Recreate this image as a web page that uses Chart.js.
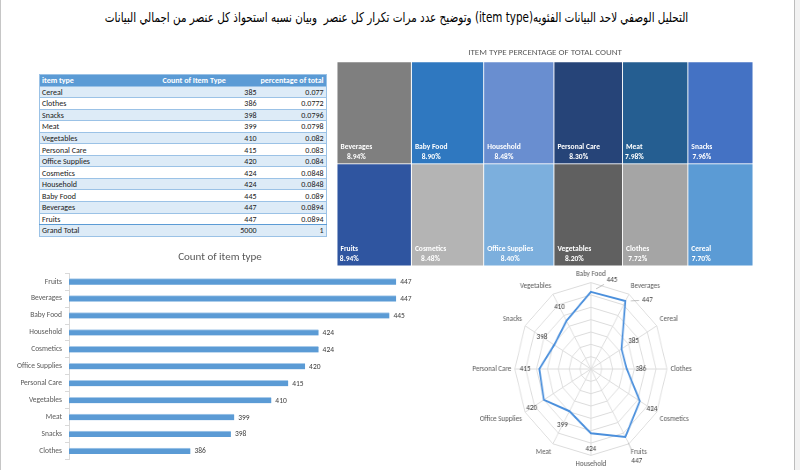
<!DOCTYPE html>
<html>
<head>
<meta charset="utf-8">
<script src="https://cdn.jsdelivr.net/npm/chart.js@4.4.0/dist/chart.umd.min.js"></script>
<style>
html,body{margin:0;padding:0;background:#fff;width:800px;height:470px;overflow:hidden;}
#wrap{position:relative;width:800px;height:470px;}
#leftEdge{position:absolute;left:0;top:0;width:1px;height:470px;background:#c6c6c6;}
#scroll{position:absolute;left:794px;top:0;width:6px;height:470px;background:#f2f2f2;border-left:1px solid #bdbdbd;}
#title{position:absolute;left:0;top:9px;width:793px;text-align:center;font-family:"DejaVu Sans","Noto Sans",sans-serif;font-size:13.5px;color:#000;white-space:nowrap;transform:scaleX(0.77);transform-origin:396.5px 50%;}
#tbl{position:absolute;left:39px;top:74px;border-collapse:collapse;table-layout:fixed;
  font-family:Carlito,"Liberation Sans Narrow","DejaVu Sans Condensed","Liberation Sans",Arial,sans-serif;font-size:8px;color:#1a1a1a;border:1px solid #9bc2e6;}
#tbl td{height:10.55px;padding:0 2px;line-height:10px;border-top:1px solid #9bc2e6;white-space:nowrap;overflow:hidden;}
#tbl tr.h td{background:#5b9bd5;color:#fff;font-weight:bold;border-top:none;}
#tbl tr.odd td{background:#ddebf7;}
#tbl tr.even td{background:#fff;}
#tbl tr.tot td{border-top:1px solid #5b9bd5;}
.num{text-align:right;}
canvas{position:absolute;}
#radar{transform:scaleX(0.88);transform-origin:150px 50%;}
</style>
</head>
<body>
<div id="wrap">
  <div id="leftEdge"></div>
  <div id="scroll"></div>
  <div id="title" dir="rtl">التحليل الوصفي لاحد البيانات الفئويه(item type) وتوضيح عدد مرات تكرار كل عنصر&nbsp; وبيان نسبه استحواذ كل عنصر من اجمالي البيانات</div>
  <table id="tbl"></table>
  <canvas id="tree" width="416" height="223" style="left:337px;top:43px;width:416px;height:223px;"></canvas>
  <canvas id="bar" width="450" height="222" style="left:0px;top:245px;width:450px;height:222px;"></canvas>
  <canvas id="radar" width="300" height="208" style="left:440px;top:265px;width:300px;height:208px;"></canvas>
</div>
<script>
// ---------- DATA ----------
const itemTypes  = ['Baby Food','Beverages','Cereal','Clothes','Cosmetics','Fruits','Household','Meat','Office Supplies','Personal Care','Snacks','Vegetables'];
const itemCounts = [445, 447, 385, 386, 424, 447, 424, 399, 420, 415, 398, 410];

const tableItems = ['Cereal','Clothes','Snacks','Meat','Vegetables','Personal Care','Office Supplies','Cosmetics','Household','Baby Food','Beverages','Fruits'];
const tableHeaders = ['item type','Count of Item Type','percentage of total'];

const barCategories = ['Fruits','Beverages','Baby Food','Household','Cosmetics','Office Supplies','Personal Care','Vegetables','Meat','Snacks','Clothes'];
const barValues     = [447, 447, 445, 424, 424, 420, 415, 410, 399, 398, 386];

const treeTop    = ['Beverages','Baby Food','Household','Personal Care','Meat','Snacks'];
const treeBottom = ['Fruits','Cosmetics','Office Supplies','Vegetables','Clothes','Cereal'];

// ---------- STYLE ----------
const FONT = 'Carlito, "Liberation Sans Narrow", "DejaVu Sans Condensed", "Liberation Sans", Arial, sans-serif';
const treeTopColors    = ['#7f7f7f','#2f78c0','#698ed0','#264478','#255e91','#4472c4'];
const treeBottomColors = ['#2f55a0','#b4b4b4','#7cafdd','#606060','#a5a5a5','#5b9bd5'];

const countOf = n => itemCounts[itemTypes.indexOf(n)];
const total = itemCounts.reduce((a,b)=>a+b,0);

// ---------- TABLE ----------
(function(){
  const t = document.getElementById('tbl');
  const cols = '<colgroup><col style="width:121px"><col style="width:98px"><col style="width:64px"></colgroup>';
  let html = cols + '<tr class="h"><td>'+tableHeaders[0]+'</td><td>'+tableHeaders[1]+'</td><td class="num">'+tableHeaders[2]+'</td></tr>';
  tableItems.forEach((n,i)=>{
    const c = countOf(n);
    const p = parseFloat((c/total).toFixed(4));
    html += '<tr class="'+(i%2===0?'odd':'even')+'"><td>'+n+'</td><td class="num">'+c+'</td><td class="num">'+p+'</td></tr>';
  });
  html += '<tr class="odd tot"><td>Grand Total</td><td class="num">'+total+'</td><td class="num">'+(total/total)+'</td></tr>';
  t.innerHTML = html;
})();

// ---------- TREEMAP (stacked horizontal bars) ----------
const treeColSums = treeTop.map((n,i)=>countOf(n)+countOf(treeBottom[i]));
const treeLabelPlugin = {
  id:'treeLabels',
  afterDatasetsDraw(chart){
    const ctx = chart.ctx;
    ctx.save();
    ctx.fillStyle = '#ffffff';
    ctx.font = 'bold 7.5px ' + FONT;
    ctx.textBaseline = 'middle';
    chart.data.datasets.forEach((ds,di)=>{
      const meta = chart.getDatasetMeta(di);
      meta.data.forEach((el,row)=>{
        const left = Math.min(el.x, el.base);
        const bottom = el.y + el.height/2;
        const name = row===0 ? treeTop[di] : treeBottom[di];
        const pct = (countOf(name)/total*100).toFixed(2)+'%';
        const nx = left + 3.5;
        ctx.textAlign = 'left';
        ctx.fillText(name, nx, bottom - 17);
        const w = ctx.measureText(name).width;
        ctx.textAlign = 'center';
        ctx.fillText(pct, nx + w/2, bottom - 7);
      });
    });
    ctx.restore();
  }
};
new Chart(document.getElementById('tree'), {
  type:'bar',
  data:{
    labels:['top','bottom'],
    datasets: treeTop.map((n,i)=>({
      label:n,
      data:[treeColSums[i], treeColSums[i]],
      backgroundColor:[treeTopColors[i], treeBottomColors[i]],
      borderColor:'#ffffff', borderWidth:0.8, borderSkipped:false,
      categoryPercentage:1, barPercentage:1
    }))
  },
  options:{
    indexAxis:'y', responsive:false, animation:false,
    layout:{padding:0},
    plugins:{legend:{display:false}, tooltip:{enabled:false},
      title:{display:true, text:'ITEM TYPE PERCENTAGE OF TOTAL COUNT', color:'#595959',
        font:{family:FONT, size:9, weight:'normal'}, padding:{top:4,bottom:4}}},
    scales:{
      x:{stacked:true, display:false, min:0, max:total},
      y:{stacked:true, display:false}
    }
  },
  plugins:[treeLabelPlugin]
});

// ---------- BAR CHART ----------
const barLabelPlugin = {
  id:'barLabels',
  afterDatasetsDraw(chart){
    const ctx = chart.ctx;
    ctx.save();
    ctx.fillStyle = '#404040';
    ctx.font = '7.5px ' + FONT;
    ctx.textAlign = 'left'; ctx.textBaseline = 'middle';
    const meta = chart.getDatasetMeta(0);
    meta.data.forEach((el,i)=>{ ctx.fillText(String(barValues[i]), el.x + 4, el.y + 0.5); });
    ctx.restore();
  }
};
new Chart(document.getElementById('bar'), {
  type:'bar',
  data:{labels:barCategories, datasets:[{data:barValues, backgroundColor:'#5b9bd5', borderColor:'#a9cbea', borderWidth:{top:1,left:0,right:0,bottom:0}, borderSkipped:false, barThickness:6}]},
  options:{
    indexAxis:'y', responsive:false, animation:false,
    layout:{padding:{left:0,right:10,top:0,bottom:6}},
    plugins:{legend:{display:false}, tooltip:{enabled:false},
      title:{display:true, text:'Count of item type', color:'#595959', font:{family:FONT, size:11, weight:'normal'}, padding:{top:6,bottom:9}}},
    scales:{
      x:{display:false, min:350, max:460},
      y:{afterFit(s){ s.width = 69; },
         border:{color:'#d9d9d9'},
         grid:{drawOnChartArea:false, drawTicks:true, tickLength:4, color:'#d9d9d9', offset:true},
         ticks:{color:'#595959', font:{family:FONT, size:7.5}, padding:3}}
    }
  },
  plugins:[barLabelPlugin]
});

// ---------- RADAR ----------
const radarLabelOffsets = {0:[24,-12], 1:[25,-1], 5:[13,24]};
const radarLabelPlugin = {
  id:'radarLabels',
  afterDatasetsDraw(chart){
    const ctx = chart.ctx, r = chart.scales.r;
    ctx.save();
    ctx.font = '8px ' + FONT;
    ctx.textAlign = 'center'; ctx.textBaseline = 'middle';
    itemCounts.forEach((v,i)=>{
      const d = r.getDistanceFromCenterForValue(v);
      const p = r.getPointPosition(i, d);
      let lx, ly;
      if (radarLabelOffsets[i]) {
        lx = p.x + radarLabelOffsets[i][0]; ly = p.y + radarLabelOffsets[i][1];
        ctx.strokeStyle = '#a6a6a6'; ctx.lineWidth = 0.7;
        ctx.beginPath();
        ctx.moveTo(p.x + (lx-p.x)*0.25, p.y + (ly-p.y)*0.25);
        ctx.lineTo(p.x + (lx-p.x)*0.62, p.y + (ly-p.y)*0.62);
        ctx.stroke();
      } else {
        const q = r.getPointPosition(i, d + 16);
        lx = q.x; ly = q.y;
      }
      ctx.fillStyle = '#404040';
      ctx.fillText(String(v), lx, ly);
    });
    ctx.restore();
  }
};
new Chart(document.getElementById('radar'), {
  type:'radar',
  data:{labels:itemTypes, datasets:[{data:itemCounts, borderColor:'#4a8fdc', borderWidth:2, pointRadius:0, fill:false, tension:0}]},
  options:{
    responsive:false, animation:false,
    layout:{padding:4},
    plugins:{legend:{display:false}, tooltip:{enabled:false}},
    scales:{r:{min:320, max:460,
      ticks:{display:false, stepSize:20},
      grid:{color:'#dcdcdc'}, angleLines:{color:'#dcdcdc'},
      pointLabels:{font:{family:FONT, size:8}, color:'#595959', padding:4}}}
  },
  plugins:[radarLabelPlugin]
});
</script>
</body>
</html>
